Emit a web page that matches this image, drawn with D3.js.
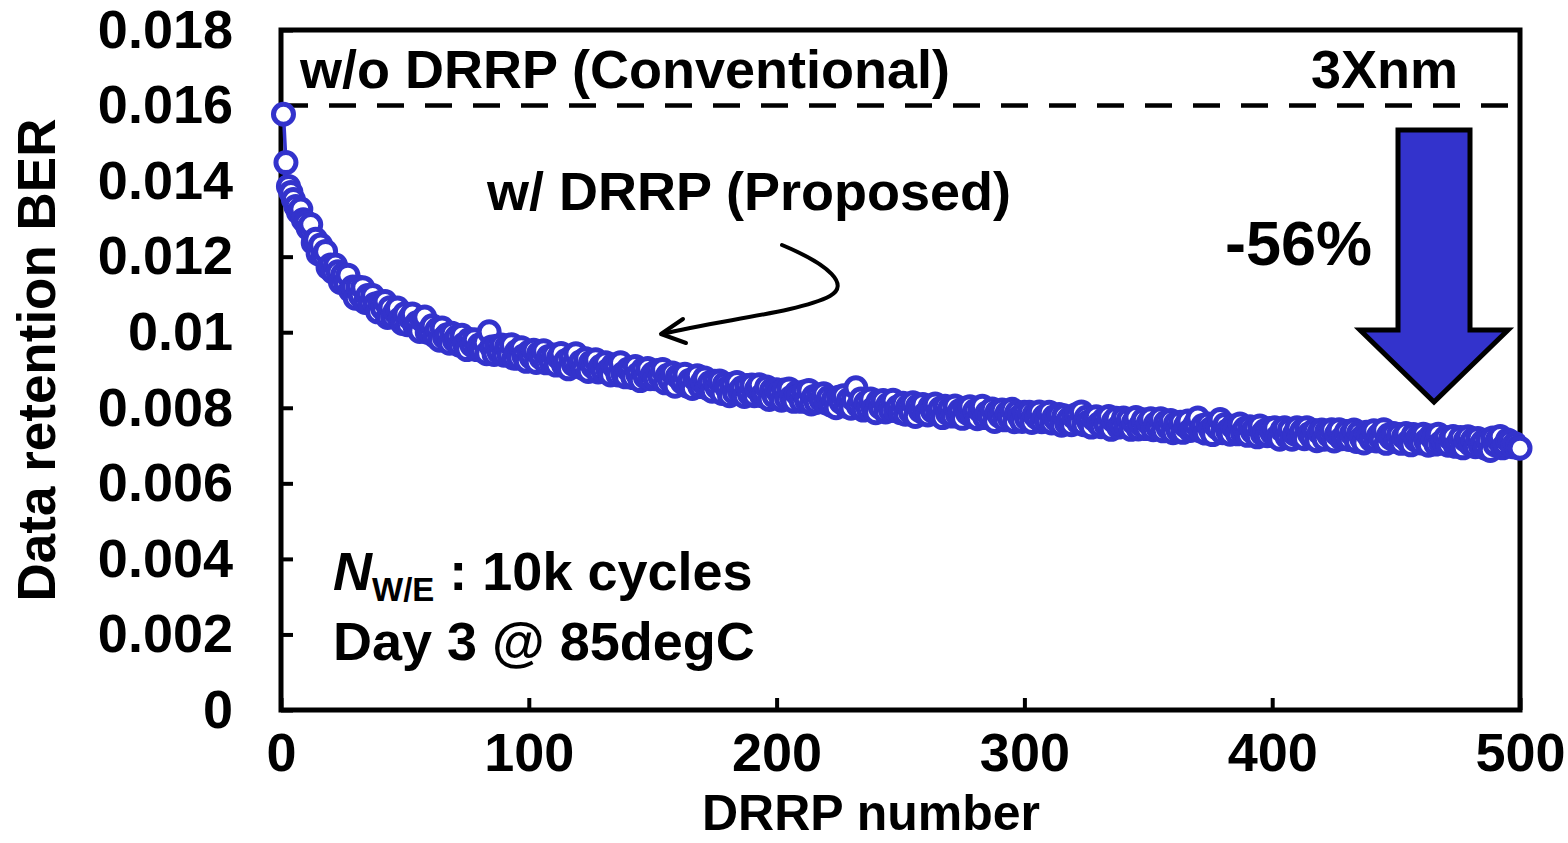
<!DOCTYPE html>
<html>
<head>
<meta charset="utf-8">
<script src="https://cdn.jsdelivr.net/npm/d3@7"></script>
<style>
  body { margin: 0; background: #fff; }
  svg { display: block; font-family: "Liberation Sans", Arial, sans-serif; font-weight: bold; }
</style>
</head>
<body>
<script>
// x axis tick labels / y axis tick labels
const drrpTicks = [0, 100, 200, 300, 400, 500];
const berTicks = [0, 0.002, 0.004, 0.006, 0.008, 0.01, 0.012, 0.014, 0.016, 0.018];

// w/o DRRP (Conventional) level
const conventionalBER = 0.016;

// w/ DRRP (Proposed): BER after each DRRP, DRRP number 1..500
const proposedBER = [
  0.01577,0.01449,0.01386,0.01370,0.01351,0.01333,0.01318,0.01326,0.01298,0.01290,
  0.01275,0.01285,0.01237,0.01246,0.01208,0.01231,0.01201,0.01214,0.01171,0.01178,
  0.01159,0.01178,0.01160,0.01132,0.01153,0.01132,0.01151,0.01111,0.01120,0.01090,
  0.01120,0.01097,0.01118,0.01079,0.01097,0.01076,0.01097,0.01075,0.01054,0.01079,
  0.01063,0.01081,0.01039,0.01065,0.01041,0.01054,0.01064,0.01035,0.01023,0.01049,
  0.01020,0.01038,0.01048,0.01017,0.01026,0.01002,0.01031,0.01040,0.01000,0.01002,
  0.01017,0.00990,0.01007,0.00979,0.01011,0.00986,0.00993,0.00971,0.00997,0.00978,
  0.00988,0.00966,0.00992,0.00969,0.00954,0.00981,0.00966,0.00980,0.00954,0.00966,
  0.00952,0.00973,0.00943,0.01001,0.00961,0.00941,0.00963,0.00947,0.00966,0.00939,
  0.00961,0.00940,0.00967,0.00931,0.00948,0.00932,0.00959,0.00938,0.00923,0.00947,
  0.00933,0.00952,0.00920,0.00944,0.00932,0.00951,0.00919,0.00936,0.00921,0.00940,
  0.00913,0.00933,0.00944,0.00914,0.00925,0.00903,0.00933,0.00915,0.00943,0.00910,
  0.00922,0.00904,0.00930,0.00896,0.00920,0.00908,0.00927,0.00895,0.00910,0.00898,
  0.00919,0.00899,0.00887,0.00913,0.00904,0.00887,0.00919,0.00890,0.00882,0.00902,
  0.00904,0.00880,0.00909,0.00888,0.00872,0.00901,0.00882,0.00904,0.00877,0.00890,
  0.00877,0.00899,0.00881,0.00901,0.00866,0.00886,0.00872,0.00892,0.00857,0.00883,
  0.00886,0.00867,0.00889,0.00857,0.00873,0.00851,0.00877,0.00885,0.00856,0.00868,
  0.00879,0.00852,0.00866,0.00844,0.00870,0.00854,0.00871,0.00838,0.00863,0.00852,
  0.00832,0.00862,0.00840,0.00867,0.00844,0.00853,0.00830,0.00859,0.00837,0.00860,
  0.00832,0.00850,0.00861,0.00832,0.00837,0.00855,0.00822,0.00847,0.00831,0.00848,
  0.00839,0.00820,0.00847,0.00825,0.00850,0.00828,0.00817,0.00840,0.00832,0.00817,
  0.00842,0.00821,0.00846,0.00810,0.00830,0.00814,0.00834,0.00820,0.00837,0.00813,
  0.00827,0.00807,0.00823,0.00800,0.00828,0.00815,0.00832,0.00804,0.00821,0.00799,
  0.00822,0.00853,0.00805,0.00823,0.00794,0.00813,0.00797,0.00823,0.00798,0.00787,
  0.00817,0.00800,0.00819,0.00789,0.00809,0.00793,0.00820,0.00793,0.00803,0.00787,
  0.00812,0.00783,0.00804,0.00789,0.00813,0.00777,0.00805,0.00792,0.00809,0.00784,
  0.00781,0.00804,0.00791,0.00810,0.00785,0.00798,0.00774,0.00804,0.00785,0.00800,
  0.00778,0.00805,0.00782,0.00793,0.00772,0.00799,0.00786,0.00803,0.00777,0.00792,
  0.00771,0.00793,0.00804,0.00774,0.00787,0.00778,0.00797,0.00764,0.00789,0.00778,
  0.00794,0.00768,0.00786,0.00772,0.00796,0.00763,0.00788,0.00776,0.00764,0.00788,
  0.00771,0.00788,0.00761,0.00782,0.00774,0.00789,0.00763,0.00777,0.00765,0.00788,
  0.00760,0.00776,0.00767,0.00782,0.00754,0.00779,0.00760,0.00771,0.00755,0.00775,
  0.00782,0.00760,0.00789,0.00755,0.00775,0.00763,0.00749,0.00770,0.00776,0.00757,
  0.00750,0.00769,0.00754,0.00777,0.00743,0.00765,0.00772,0.00749,0.00756,0.00773,
  0.00753,0.00769,0.00743,0.00761,0.00774,0.00744,0.00755,0.00768,0.00745,0.00760,
  0.00771,0.00742,0.00758,0.00746,0.00771,0.00739,0.00761,0.00747,0.00766,0.00734,
  0.00758,0.00740,0.00762,0.00735,0.00752,0.00765,0.00740,0.00746,0.00758,0.00773,
  0.00739,0.00753,0.00733,0.00757,0.00743,0.00729,0.00754,0.00746,0.00769,0.00734,
  0.00756,0.00739,0.00730,0.00751,0.00744,0.00731,0.00757,0.00734,0.00745,0.00727,
  0.00750,0.00737,0.00746,0.00723,0.00752,0.00731,0.00739,0.00726,0.00745,0.00733,
  0.00747,0.00722,0.00717,0.00741,0.00747,0.00723,0.00742,0.00717,0.00731,0.00747,
  0.00725,0.00739,0.00718,0.00747,0.00731,0.00721,0.00740,0.00713,0.00735,0.00741,
  0.00717,0.00737,0.00726,0.00742,0.00712,0.00731,0.00742,0.00718,0.00722,0.00737,
  0.00716,0.00732,0.00741,0.00711,0.00734,0.00720,0.00707,0.00735,0.00726,0.00715,
  0.00739,0.00712,0.00727,0.00716,0.00742,0.00706,0.00728,0.00719,0.00732,0.00711,
  0.00729,0.00706,0.00723,0.00732,0.00710,0.00702,0.00729,0.00714,0.00724,0.00707,
  0.00730,0.00712,0.00701,0.00725,0.00718,0.00704,0.00730,0.00707,0.00712,0.00721,
  0.00701,0.00718,0.00724,0.00698,0.00707,0.00721,0.00694,0.00714,0.00723,0.00703,
  0.00716,0.00697,0.00719,0.00700,0.00710,0.00693,0.00715,0.00687,0.00720,0.00702,
  0.00716,0.00724,0.00694,0.00702,0.00715,0.00711,0.00697,0.00705,0.00695,0.00693
];
const drrpNumbers = d3.range(1, proposedBER.length + 1);

const width = 1568;
const height = 843;
const blue = '#3333cc';

const svg = d3.select('body').append('svg')
  .attr('width', width)
  .attr('height', height);

const x = d3.scaleLinear().domain([0, 500]).range([281, 1520]);
const y = d3.scaleLinear().domain([0, 0.018]).range([710, 30]);

// plot frame
svg.append('rect')
  .attr('x', x(0)).attr('y', y(0.018))
  .attr('width', x(500) - x(0)).attr('height', y(0) - y(0.018))
  .attr('fill', 'none').attr('stroke', '#000').attr('stroke-width', 5);

const fmtBer = (d) => d === 0 ? '0' : String(+d.toFixed(3));

const gy = svg.append('g')
  .attr('transform', `translate(${x(0)},0)`)
  .call(d3.axisLeft(y).tickValues(berTicks).tickSize(-12).tickPadding(48).tickFormat(fmtBer));

const gx = svg.append('g')
  .attr('transform', `translate(0,${y(0)})`)
  .call(d3.axisBottom(x).tickValues(drrpTicks).tickSize(-12).tickPadding(23).tickFormat(d3.format('d')));

[gy, gx].forEach((g) => {
  g.select('.domain').remove();
  g.attr('font-family', null).attr('font-size', null);
  g.selectAll('.tick line').attr('stroke', '#000').attr('stroke-width', 4);
  g.selectAll('.tick text').attr('fill', '#000').style('font-size', '54px');
});

// conventional level
svg.append('line')
  .attr('x1', x(0)).attr('x2', x(500))
  .attr('y1', y(conventionalBER)).attr('y2', y(conventionalBER))
  .attr('stroke', '#000').attr('stroke-width', 4.5)
  .attr('stroke-dasharray', '27,21');

// proposed series
const line = d3.line()
  .x((d, i) => x(drrpNumbers[i]))
  .y((d) => y(d));

svg.append('path')
  .datum(proposedBER)
  .attr('d', line)
  .attr('fill', 'none')
  .attr('stroke', blue)
  .attr('stroke-width', 3.5);

svg.append('g')
  .selectAll('circle')
  .data(proposedBER)
  .enter()
  .append('circle')
  .attr('cx', (d, i) => x(drrpNumbers[i]))
  .attr('cy', (d) => y(d))
  .attr('r', 10)
  .attr('fill', '#fff')
  .attr('stroke', blue)
  .attr('stroke-width', 5);

// labels
const label = (txt, px, py, size, anchor) => svg.append('text')
  .attr('x', px).attr('y', py)
  .attr('text-anchor', anchor || 'start')
  .style('font-size', size + 'px')
  .text(txt);

label('w/o DRRP (Conventional)', 300, 88, 54);
label('3Xnm', 1458, 88, 54, 'end');
label('w/ DRRP (Proposed)', 487, 210, 54);
label('-56%', 1225, 265, 63);
label('Day 3 @ 85degC', 333, 660, 54);

const nwe = svg.append('text').attr('x', 333).attr('y', 590).style('font-size', '54px');
nwe.append('tspan').style('font-style', 'italic').text('N');
nwe.append('tspan').attr('dy', 11).style('font-size', '33px').text('W/E');
nwe.append('tspan').attr('dy', -11).text('\u00a0: 10k cycles');

label('DRRP number', 871, 830, 50, 'middle');
svg.append('text')
  .attr('transform', 'translate(55,360) rotate(-90)')
  .attr('text-anchor', 'middle')
  .style('font-size', '53px')
  .text('Data retention BER');

// reduction arrow
svg.append('path')
  .attr('d', 'M1398,130 L1470,130 L1470,330 L1508,330 L1434,402 L1360,330 L1398,330 Z')
  .attr('fill', blue)
  .attr('stroke', '#000')
  .attr('stroke-width', 5)
  .attr('stroke-linejoin', 'miter');

// pointer to the proposed curve
svg.append('path')
  .attr('d', 'M782,245 C830,265 850,285 830,296 C800,312 720,320 662,334')
  .attr('fill', 'none').attr('stroke', '#000').attr('stroke-width', 4)
  .attr('stroke-linecap', 'round');
svg.append('path')
  .attr('d', 'M683,319 L661,334 L686,343')
  .attr('fill', 'none').attr('stroke', '#000').attr('stroke-width', 4)
  .attr('stroke-linecap', 'round').attr('stroke-linejoin', 'round');
</script>
</body>
</html>
